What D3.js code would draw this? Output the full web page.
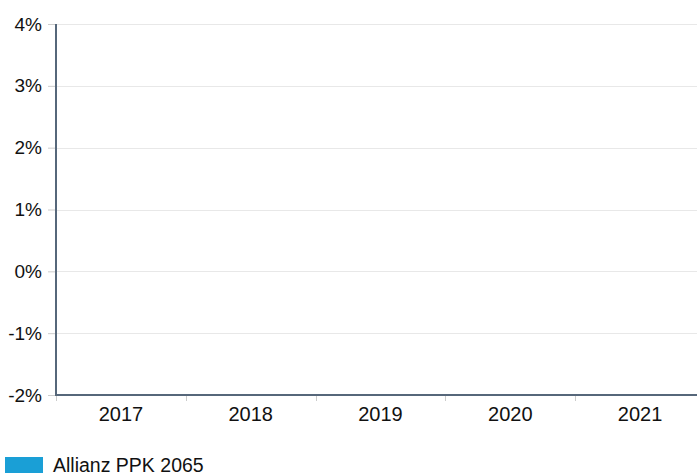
<!DOCTYPE html>
<html>
<head>
<meta charset="utf-8">
<script src="https://cdn.jsdelivr.net/npm/d3@7"></script>
<style>
  html, body { margin: 0; padding: 0; background: #fff; overflow: hidden; }
  svg { display: block; font-family: "Liberation Sans", Arial, sans-serif; }
</style>
</head>
<body>
<div id="chart"></div>
<script>
const width = 697;
const height = 474;

// data
const years = ["2017", "2018", "2019", "2020", "2021"];
const seriesName = "Allianz PPK 2065";
const seriesValues = [0, 0, 0, 0, 0]; // nothing visible in the picture
const yTicks = [-2, -1, 0, 1, 2, 3, 4];

const plotLeft = 56, plotRight = 705, plotTop = 24, plotBottom = 395;

const x = d3.scaleBand().domain(years).range([plotLeft, plotRight])
    .paddingInner(0.2).paddingOuter(0.1);
const y = d3.scaleLinear().domain([-2, 4]).range([plotBottom, plotTop]);

const svg = d3.select("#chart")
    .append("svg")
    .attr("width", width)
    .attr("height", height);

// gridlines
svg.append("g")
    .selectAll("line")
    .data(yTicks)
    .join("line")
    .attr("x1", plotLeft)
    .attr("x2", width)
    .attr("y1", d => Math.round(y(d)) + 0.5)
    .attr("y2", d => Math.round(y(d)) + 0.5)
    .attr("stroke", "#e8e8e8");

// bars (all zero)
svg.append("g")
    .selectAll("rect")
    .data(seriesValues)
    .join("rect")
    .attr("x", (d, i) => x(years[i]))
    .attr("width", x.bandwidth())
    .attr("y", d => y(Math.max(0, d)))
    .attr("height", d => Math.abs(y(d) - y(0)))
    .attr("fill", "#1a9fd6");

// y axis
const yAxis = svg.append("g")
    .attr("transform", `translate(${plotLeft},0)`)
    .call(d3.axisLeft(y).tickValues(yTicks).tickFormat(d => d + "%").tickSizeOuter(0).tickSize(8).tickPadding(6));
yAxis.select(".domain").remove();
yAxis.selectAll(".tick line").attr("stroke", "#cccccc");
yAxis.selectAll(".tick text")
    .attr("fill", "#111")
    .attr("font-size", "19px")
    .attr("font-family", "Liberation Sans, Arial, sans-serif");

// x axis
const xAxis = svg.append("g")
    .attr("transform", `translate(0,${plotBottom})`)
    .call(d3.axisBottom(x).tickSize(0).tickPadding(10));
xAxis.select(".domain").remove();
xAxis.selectAll(".tick text")
    .attr("fill", "#111")
    .attr("font-size", "20px")
    .attr("dy", "0.8em")
    .attr("font-family", "Liberation Sans, Arial, sans-serif");

// category separators
const gap = (x.step() - x.bandwidth()) / 2;
svg.append("g")
    .selectAll("line")
    .data(years)
    .join("line")
    .attr("x1", d => Math.round(x(d) - gap) + 0.5)
    .attr("x2", d => Math.round(x(d) - gap) + 0.5)
    .attr("y1", plotBottom)
    .attr("y2", plotBottom + 6)
    .attr("stroke", "#cccccc");

// axis lines
svg.append("line")
    .attr("x1", plotLeft).attr("x2", width)
    .attr("y1", plotBottom).attr("y2", plotBottom)
    .attr("stroke", "#56677a").attr("stroke-width", 2);
svg.append("line")
    .attr("x1", plotLeft).attr("x2", plotLeft)
    .attr("y1", plotTop).attr("y2", plotBottom + 1)
    .attr("stroke", "#56677a").attr("stroke-width", 2);

// legend
const legend = svg.append("g").attr("transform", "translate(5,457)");
legend.append("rect")
    .attr("width", 38).attr("height", 16)
    .attr("fill", "#1a9fd6");
legend.append("text")
    .attr("x", 48).attr("y", 14.5)
    .attr("font-size", "19.5px")
    .attr("fill", "#111")
    .text(seriesName);
</script>
</body>
</html>
